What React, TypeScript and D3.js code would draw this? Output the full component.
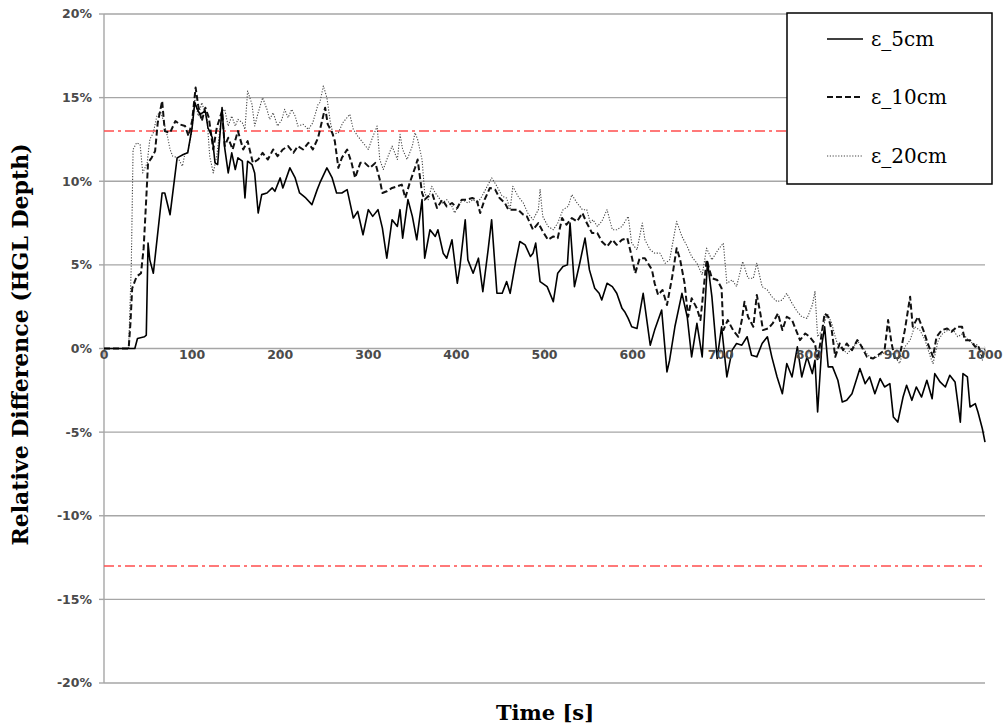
import React from 'react';
import * as d3 from 'd3';

type P = [number, number];

const eps5: P[] = [[0,0],[35,0],[38,0.6],[46,0.7],[48,0.8],[50,6.3],[52,5.3],[56,4.5],[66,9.3],[69,9.3],[75,8.0],[83,11.4],[90,11.6],[95,11.7],[100,13.2],[103,14.7],[106,14.3],[109,14.0],[115,14.2],[118,13.2],[123,12.6],[126,11.1],[129,11.0],[134,14.4],[137,12.0],[141,10.5],[145,11.7],[149,10.7],[152,11.4],[157,11.2],[160,9.0],[163,11.2],[168,11.0],[171,10.5],[175,8.1],[179,9.2],[185,9.3],[191,9.6],[194,9.4],[200,10.2],[203,9.6],[211,10.8],[217,10.2],[222,9.3],[229,9.0],[236,8.6],[242,9.5],[245,9.9],[253,10.8],[259,10.2],[264,9.3],[270,9.3],[276,9.5],[283,7.8],[288,8.2],[294,6.8],[300,8.3],[305,7.9],[311,8.3],[316,7.2],[321,5.4],[327,7.7],[333,7.3],[336,8.3],[339,6.6],[345,8.9],[350,7.9],[355,6.5],[361,8.9],[364,5.4],[370,7.1],[376,6.7],[379,7.1],[385,5.7],[389,5.4],[395,6.5],[401,3.9],[404,4.9],[410,7.7],[413,5.3],[419,4.5],[425,5.4],[430,3.4],[436,5.9],[440,7.7],[446,3.3],[452,3.3],[457,4.0],[461,3.3],[467,5.1],[472,6.4],[478,6.2],[484,5.5],[487,5.7],[490,6.3],[495,4.0],[503,3.7],[510,2.8],[515,4.5],[521,4.9],[526,5.0],[529,7.5],[534,3.7],[540,5.1],[546,6.6],[551,4.7],[557,3.6],[562,3.3],[565,2.9],[571,3.9],[577,3.7],[582,3.3],[588,2.4],[591,2.2],[595,1.8],[599,1.3],[605,1.2],[612,3.3],[620,0.2],[625,1.1],[633,2.3],[639,-1.4],[642,-0.7],[648,1.3],[656,3.3],[662,1.9],[667,-0.5],[673,1.5],[679,-0.5],[685,5.2],[690,3.1],[696,-0.6],[701,1.3],[707,-1.7],[713,-0.1],[718,0.3],[724,0.2],[730,0.7],[735,-0.4],[741,-0.5],[747,0.3],[753,0.7],[758,-0.5],[764,-1.7],[770,-2.7],[775,-0.9],[781,-1.7],[787,0.1],[792,-1.7],[798,-0.5],[804,-1.5],[807,-0.7],[810,-3.8],[815,0.3],[818,1.3],[822,-1.1],[827,-1.1],[833,-1.9],[838,-3.2],[843,-3.1],[849,-2.7],[855,-1.7],[858,-1.2],[864,-2.1],[869,-1.7],[875,-2.7],[881,-1.8],[886,-2.3],[892,-2.1],[896,-4.1],[901,-4.4],[907,-2.9],[911,-2.2],[917,-3.1],[922,-2.3],[928,-2.9],[934,-1.9],[940,-3.0],[943,-1.5],[949,-2.0],[955,-2.3],[960,-1.6],[966,-2.0],[972,-4.4],[975,-1.5],[980,-1.7],[983,-3.5],[989,-3.3],[992,-3.8],[997,-4.8],[1000,-5.6]];

const eps10: P[] = [[0,0],[28,0],[30,1.5],[32,3.6],[37,4.3],[42,4.5],[45,6.0],[48,9.0],[50,11.1],[54,11.4],[58,11.8],[61,13.5],[66,14.8],[69,13.0],[75,12.9],[81,13.6],[86,13.4],[92,13.3],[96,12.7],[100,13.6],[104,15.6],[107,14.5],[111,13.6],[115,14.4],[119,13.8],[124,11.9],[128,13.2],[134,14.2],[137,12.1],[141,12.6],[146,11.9],[152,13.0],[158,11.9],[163,12.4],[169,11.1],[175,11.3],[180,11.7],[186,11.3],[192,11.9],[197,11.5],[203,11.9],[209,12.1],[215,11.7],[220,12.1],[226,11.9],[232,12.3],[237,11.9],[243,12.6],[247,13.5],[251,14.4],[254,13.4],[259,12.9],[262,12.4],[266,10.8],[270,11.4],[276,11.9],[281,11.1],[285,10.2],[291,11.1],[296,11.1],[302,10.8],[308,11.1],[313,10.1],[316,9.3],[321,9.4],[327,9.6],[333,9.7],[338,9.8],[342,9.0],[347,9.9],[353,10.8],[356,11.3],[361,9.3],[364,8.9],[368,9.1],[373,9.2],[378,8.4],[384,8.9],[389,8.5],[395,8.7],[401,8.4],[406,8.9],[412,8.9],[418,9.0],[423,8.9],[427,8.1],[432,8.9],[438,9.6],[444,9.5],[449,9.0],[455,8.7],[459,8.3],[464,8.3],[470,8.3],[476,8.0],[480,7.9],[487,7.1],[493,7.5],[498,7.0],[504,6.5],[510,6.7],[515,6.6],[520,7.8],[525,7.4],[531,7.8],[537,7.6],[543,8.1],[548,7.5],[554,6.9],[560,6.9],[565,6.4],[571,6.1],[577,6.5],[582,6.2],[588,6.5],[594,6.6],[599,5.5],[603,4.5],[608,5.4],[614,5.4],[622,4.7],[625,3.9],[629,3.2],[634,3.5],[639,2.6],[645,4.3],[650,6.0],[654,5.3],[659,3.9],[663,1.9],[667,3.0],[673,2.4],[677,1.7],[684,5.3],[690,4.2],[696,4.1],[701,3.6],[703,1.1],[708,1.7],[714,1.1],[720,0.7],[724,1.7],[727,2.8],[731,1.9],[737,1.3],[741,3.2],[745,2.1],[748,1.1],[754,1.2],[759,1.5],[765,2.1],[770,1.1],[775,1.9],[781,1.7],[787,0.9],[790,0.5],[796,0.9],[801,0.7],[807,0.3],[810,-0.7],[813,0.3],[818,2.1],[822,1.9],[826,1.1],[830,-0.5],[835,0.3],[839,-0.1],[843,0.3],[849,-0.1],[855,0.5],[858,0.3],[866,-0.5],[873,-0.6],[881,-0.3],[886,-0.1],[890,1.7],[894,0.3],[898,-0.7],[903,-0.5],[909,1.1],[915,3.1],[918,1.3],[924,1.9],[930,1.1],[935,0.3],[941,-0.5],[945,0.7],[951,1.1],[957,1.2],[962,1.0],[968,1.3],[974,1.3],[977,0.5],[983,0.5],[989,0.1],[992,0.2],[997,-0.5],[1000,-0.1]];

const eps20: P[] = [[0,0],[28,0],[31,5.0],[33,11.9],[37,12.3],[41,12.2],[44,10.5],[49,11.1],[52,12.5],[56,12.9],[60,13.9],[64,14.2],[67,13.7],[72,12.7],[75,11.9],[78,11.5],[84,11.4],[89,10.9],[92,11.7],[95,11.7],[100,13.1],[103,14.9],[107,13.9],[111,14.7],[117,13.7],[120,11.5],[124,10.5],[128,11.5],[134,14.2],[137,14.3],[141,13.3],[145,13.9],[149,13.3],[152,13.7],[157,13.5],[160,13.1],[163,15.4],[168,14.6],[171,13.3],[175,14.1],[180,15.0],[185,14.3],[188,13.7],[192,14.1],[197,13.3],[202,13.7],[205,14.3],[209,13.8],[213,14.3],[217,13.9],[220,13.3],[226,13.4],[232,13.1],[237,13.5],[243,14.6],[245,14.7],[249,15.7],[253,15.0],[257,13.5],[260,12.8],[266,12.9],[271,13.5],[279,14.0],[283,13.1],[288,12.7],[294,12.3],[300,11.9],[304,12.5],[310,13.3],[313,11.3],[317,10.7],[321,11.3],[327,12.1],[333,11.3],[336,12.8],[339,11.9],[344,11.3],[350,12.1],[353,12.9],[356,12.5],[361,11.3],[364,9.3],[368,8.9],[372,9.7],[376,9.3],[379,9.1],[384,8.7],[389,8.9],[395,8.5],[398,8.1],[402,8.5],[407,8.9],[413,8.7],[419,8.9],[424,8.7],[429,9.1],[435,9.7],[440,10.2],[446,9.7],[452,9.1],[457,9.0],[461,8.3],[464,9.7],[470,9.1],[476,8.7],[481,8.1],[487,7.7],[493,8.3],[495,9.5],[498,7.9],[504,7.3],[510,7.1],[515,7.5],[521,8.3],[527,8.5],[531,9.2],[537,8.7],[543,8.3],[548,8.3],[552,7.5],[555,7.7],[560,7.3],[565,7.6],[571,8.3],[577,7.1],[582,7.1],[588,7.3],[595,7.9],[599,6.3],[605,5.9],[611,7.5],[614,6.5],[620,5.9],[625,5.7],[631,5.7],[637,5.1],[642,5.3],[650,7.6],[656,6.7],[662,6.1],[667,5.5],[673,5.1],[679,4.4],[684,6.0],[690,5.3],[697,5.9],[703,6.3],[707,3.9],[713,4.1],[718,3.7],[725,5.2],[731,4.2],[737,4.2],[741,5.1],[747,3.7],[753,3.5],[758,3.1],[764,2.8],[770,2.9],[775,3.3],[781,2.7],[787,2.2],[792,1.9],[798,1.8],[804,2.6],[807,3.4],[810,0.7],[815,1.1],[821,2.1],[826,1.5],[830,0.7],[833,0.2],[839,-0.1],[844,-0.3],[850,0.1],[856,0.4],[861,0.1],[867,-0.4],[873,-0.6],[878,-0.5],[884,-0.3],[890,-0.1],[898,-0.5],[903,-0.9],[909,0.1],[915,0.5],[920,1.3],[926,1.1],[932,0.5],[938,-0.5],[941,-0.9],[947,0.5],[952,0.9],[958,1.1],[964,1.1],[969,0.7],[975,0.9],[981,0.5],[986,0.3],[992,0.2],[997,-0.7],[1000,0.1]];

const yTicks = [20, 15, 10, 5, 0, -5, -10, -15, -20];
const xTicks = [0, 100, 200, 300, 400, 500, 600, 700, 800, 900, 1000];
const limits = [13, -13];
const seriesNames = ['ε_5cm', 'ε_10cm', 'ε_20cm'];

const styles = [
  { dash: undefined as string | undefined, width: 1.6, color: '#000' },
  { dash: '6,3', width: 2, color: '#111' },
  { dash: '1.2,1.6', width: 1.1, color: '#444' },
];

export default function App() {
  const x = d3.scaleLinear().domain([0, 1000]).range([104, 985]);
  const y = d3.scaleLinear().domain([-20, 20]).range([683, 14]);
  const line = d3.line<P>().x(d => x(d[0])).y(d => y(d[1]));
  const series = [eps5, eps10, eps20];
  const gridColor = '#a6a6a6';
  const tickFont = "'DejaVu Sans', Verdana, sans-serif";
  const serif = "'DejaVu Serif', serif";

  return (
    <svg width={1008} height={727} style={{ position: 'absolute', left: 0, top: 0, background: '#fff' }}>
      <rect x={0} y={0} width={1008} height={727} fill="#fff" />
      {yTicks.map(t => (
        <line key={'g' + t} x1={x(0)} x2={x(1000)} y1={y(t)} y2={y(t)} stroke={gridColor} strokeWidth={1.4} />
      ))}
      <line x1={x(0)} x2={x(0)} y1={y(20)} y2={y(-20)} stroke={gridColor} strokeWidth={1.4} />
      {yTicks.map(t => (
        <line key={'yt' + t} x1={x(0) - 5} x2={x(0)} y1={y(t)} y2={y(t)} stroke={gridColor} strokeWidth={1.4} />
      ))}
      {xTicks.map(t => (
        <line key={'xt' + t} x1={x(t)} x2={x(t)} y1={y(0)} y2={y(0) + 5} stroke={gridColor} strokeWidth={1.4} />
      ))}
      {limits.map(l => (
        <line key={'l' + l} x1={x(0)} x2={x(1000)} y1={y(l)} y2={y(l)} stroke="#ff4d4d" strokeWidth={1.5} strokeDasharray="10,4,3,4" />
      ))}
      {[2, 1, 0].map(i => (
        <path key={'s' + i} d={line(series[i]) || ''} fill="none" stroke={styles[i].color} strokeWidth={styles[i].width}
          strokeDasharray={styles[i].dash} strokeLinejoin="round" />
      ))}
      {yTicks.map(t => (
        <text key={'yl' + t} x={92} y={y(t)} dy="0.35em" textAnchor="end" fontFamily={tickFont} fontWeight="bold" fontSize={12.5} fill="#4a4a4a">{`${t}%`}</text>
      ))}
      {xTicks.map(t => (
        <text key={'xl' + t} x={x(t)} y={y(0) + 6} dy="0.35em" textAnchor="middle" fontFamily={tickFont} fontWeight="bold" fontSize={12.5} fill="#4a4a4a">{t}</text>
      ))}
      <text transform={`translate(28, ${y(0) - 4}) rotate(-90)`} textAnchor="middle" fontFamily={serif} fontWeight="bold" fontSize={22} fill="#000">Relative Difference (HGL Depth)</text>
      <text x={545} y={720} textAnchor="middle" fontFamily={serif} fontWeight="bold" fontSize={21} fill="#000">Time [s]</text>
      <rect x={787} y={13} width={205} height={171} fill="#fff" stroke="#000" strokeWidth={1.5} />
      {seriesNames.map((n, i) => {
        const cy = [39, 97, 156][i];
        return (
          <g key={'lg' + i}>
            <line x1={827} x2={863} y1={cy} y2={cy} stroke={styles[i].color} strokeWidth={styles[i].width} strokeDasharray={styles[i].dash} />
            <text x={871} y={cy} dy="0.35em" fontFamily={serif} fontSize={20} fill="#000">{n}</text>
          </g>
        );
      })}
    </svg>
  );
}
